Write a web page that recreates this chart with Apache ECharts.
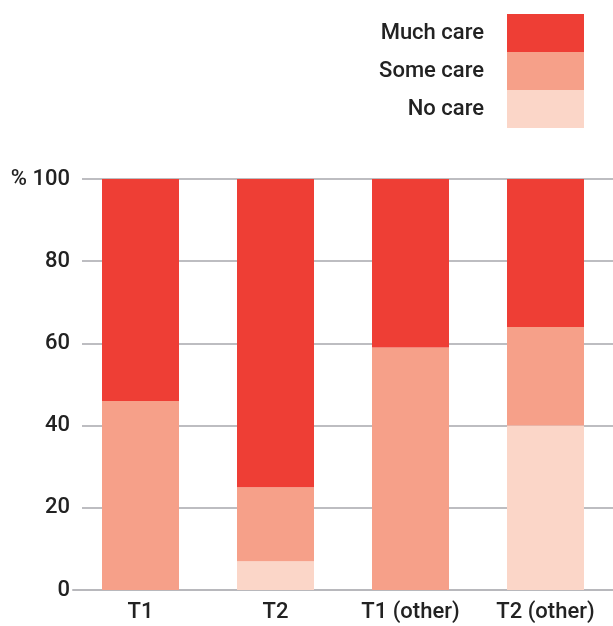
<!DOCTYPE html>
<html>
<head>
<meta charset="utf-8">
<script src="https://cdn.jsdelivr.net/npm/echarts@6/dist/echarts.min.js"></script>
<style>
  html, body { margin: 0; padding: 0; background: #fff; }
  #chart { width: 613px; height: 626px; }
</style>
</head>
<body>
<div id="chart"></div>
<script>
// Share of respondents by level of care (%)
const categories = ['T1', 'T2', 'T1 (other)', 'T2 (other)'];
const noCare   = [0, 7, 0, 40];
const someCare = [46, 18, 59, 24];
const muchCare = [54, 75, 41, 36];
const yTicks = [0, 20, 40, 60, 80, 100];

const FONT = 'Roboto, "Liberation Sans", sans-serif';
const WEIGHT = 500;
const SIZE = 22;
const TEXT = '#222222';
const colors = { much: '#ee3e35', some: '#f6a089', none: '#fbd6c8' };

const chart = echarts.init(document.getElementById('chart'), null, { renderer: 'canvas' });

const option = {
  animation: false,
  textStyle: { fontFamily: FONT },
  legend: {
    data: ['Much care', 'Some care', 'No care'],
    orient: 'vertical',
    align: 'right',
    right: 24,
    top: 9,
    itemWidth: 77,
    itemHeight: 38,
    itemGap: 0,
    icon: 'rect',
    selectedMode: false,
    textStyle: { fontFamily: FONT, fontWeight: WEIGHT, fontSize: SIZE, color: TEXT, padding: [3, 18, 0, 0] }
  },
  grid: [
    { left: 82, right: 0, top: 179, bottom: 36 },
    { left: 73, right: 0, top: 179, bottom: 36 }
  ],
  xAxis: [
    { gridIndex: 0, type: 'category', data: categories, show: false },
    {
      gridIndex: 1,
      type: 'category',
      data: categories,
      axisTick: { show: false },
      axisLine: { show: true, lineStyle: { color: '#b8b8bc', width: 2 } },
      axisLabel: { fontFamily: FONT, fontWeight: WEIGHT, fontSize: SIZE, color: TEXT, margin: 11 }
    }
  ],
  yAxis: [
    {
      gridIndex: 0,
      type: 'value',
      min: yTicks[0],
      max: yTicks[yTicks.length - 1],
      interval: 20,
      axisLine: { show: false },
      axisTick: { show: false },
      splitLine: { show: true, lineStyle: { color: '#bdbdc1', width: 2 } },
      axisLabel: {
        fontFamily: FONT, fontWeight: WEIGHT, fontSize: SIZE, color: TEXT, margin: 12,
        formatter: v => (v === 100 ? '% 100' : String(v))
      }
    },
    {
      gridIndex: 1,
      type: 'value',
      min: yTicks[0],
      max: yTicks[yTicks.length - 1],
      interval: 20,
      show: false
    }
  ],
  series: [
    { name: 'No care', type: 'bar', stack: 'care', xAxisIndex: 1, yAxisIndex: 1,
      data: noCare, barWidth: 77, itemStyle: { color: colors.none } },
    { name: 'Some care', type: 'bar', stack: 'care', xAxisIndex: 1, yAxisIndex: 1,
      data: someCare, barWidth: 77, itemStyle: { color: colors.some } },
    { name: 'Much care', type: 'bar', stack: 'care', xAxisIndex: 1, yAxisIndex: 1,
      data: muchCare, barWidth: 77, itemStyle: { color: colors.much } }
  ]
};

chart.setOption(option);
</script>
</body>
</html>
